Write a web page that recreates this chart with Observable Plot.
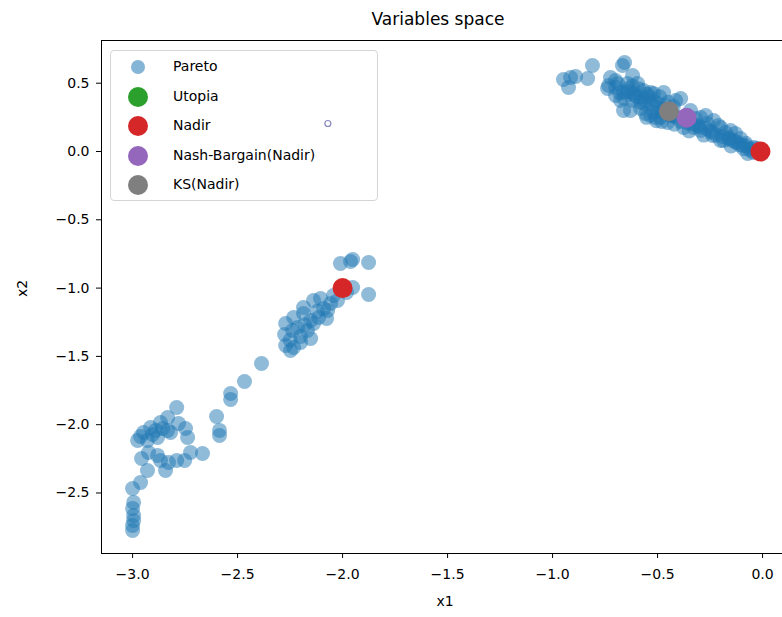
<!DOCTYPE html>
<html>
<head>
<meta charset="utf-8">
<script src="https://cdn.jsdelivr.net/npm/d3@7"></script>
<script src="https://cdn.jsdelivr.net/npm/@observablehq/plot@0.6"></script>
<style>
  body { margin: 0; background: #fff; font-family: "DejaVu Sans", sans-serif; }
  #wrap { position: relative; width: 782px; height: 617px; }
  #legend { position: absolute; left: 110px; top: 50px; width: 266px; height: 149px;
    border: 1px solid #d4d4d4; border-radius: 4px; background: transparent;
    font-family: "DejaVu Sans", sans-serif; font-size: 14px; color: #000; pointer-events: none; }
  .entry { position: absolute; left: 0; height: 24px; }
  .entry svg { position: absolute; left: 15px; top: 0; }
  .entry span { position: absolute; left: 62px; top: 3px; white-space: nowrap; }
</style>
</head>
<body>
<div id="wrap"><div id="legend"></div></div>
<script>
// Pareto set, x1 values
const paretoX1 = [
  -3.000,-3.000,-2.995,-2.995,-3.000,-2.995,-3.000,-2.962,-2.929,-2.957,-2.924,-2.881,-2.867,-2.843,-2.829,-2.790,-2.752,-2.724,-2.667,
  -2.976,-2.929,-2.948,-2.914,-2.881,-2.867,-2.833,-2.833,-2.819,-2.790,-2.781,-2.748,-2.738,-2.890,-2.857,-2.905,-2.962,
  -2.600,-2.586,-2.586,-2.533,-2.533,-2.467,-2.386,
  -2.276,-2.271,-2.248,-2.238,-2.214,-2.200,-2.200,-2.233,-2.271,-2.233,-2.186,-2.186,-2.167,-2.152,-2.152,-2.138,-2.138,-2.114,
  -2.105,-2.071,-2.057,-2.024,-2.043,-2.076,-2.010,-1.962,-1.952,-1.876,-1.876,-1.952,-1.981,-2.090,-2.120,-2.180,-2.250,
  -0.948,-0.914,-0.890,-0.924,-0.833,-0.810,-0.667,-0.657,-0.619,-0.724,-0.733,-0.738,-0.690,-0.643,-0.595,-0.662,-0.614,-0.567,
  -0.533,-0.662,-0.619,-0.567,-0.519,-0.533,-0.486,-0.519,-0.471,-0.390,-0.500,-0.510,-0.452,-0.295,-0.262,-0.233,-0.200,-0.152,
  -0.129,-0.238,-0.186,-0.119,-0.081,-0.057,-0.071,-0.043,-0.295,-0.329,-0.376,-0.581,-0.557,-0.462,-0.438,-0.343,-0.319,-0.271,
  -0.210,-0.176,-0.105,-0.095,-0.029,-0.414,-0.700,-0.676,-0.629,-0.552,-0.505,-0.425,-0.600,-0.640,-0.480,-0.360,-0.250,-0.160,
  -0.080,-0.020,-0.700,-0.580,-0.540,-0.420,-0.300,-0.140,
  -0.64,-0.61,-0.58,-0.56,-0.53,-0.50,-0.47,-0.44,-0.41,-0.39,-0.33,-0.31,-0.27,-0.24,-0.22,-0.19,-0.16,-0.13,-0.11,-0.09,
  -0.06,-0.04,-0.62,-0.59,-0.55,-0.49,-0.45,-0.52,-0.48,-0.42,-0.35,-0.28,-0.20,-0.15,-0.68,-0.70,-0.66
];
// Pareto set, x2 values
const paretoX2 = [
  -2.775,-2.738,-2.701,-2.665,-2.613,-2.569,-2.467,-2.423,-2.335,-2.247,-2.204,-2.225,-2.262,-2.335,-2.277,-2.262,-2.262,-2.204,-2.211,
  -2.115,-2.115,-2.057,-2.021,-2.094,-1.984,-1.947,-2.042,-2.057,-1.874,-1.991,-2.028,-2.094,-2.042,-2.028,-2.072,-2.086,
  -1.940,-2.042,-2.079,-1.772,-1.815,-1.684,-1.552,
  -1.340,-1.420,-1.457,-1.310,-1.288,-1.354,-1.398,-1.435,-1.259,-1.215,-1.186,-1.142,-1.310,-1.237,-1.369,-1.091,-1.259,-1.215,
  -1.076,-1.164,-1.113,-1.091,-1.054,-1.222,-0.820,-0.805,-0.791,-0.813,-1.047,-0.996,-1.032,-1.150,-1.170,-1.270,-1.380,
  0.527,0.542,0.549,0.469,0.534,0.630,0.630,0.652,0.556,0.542,0.483,0.461,0.498,0.498,0.498,0.432,0.425,0.447,
  0.432,0.300,0.373,0.351,0.373,0.264,0.249,0.425,0.432,0.388,0.351,0.249,0.212,0.249,0.205,0.227,0.176,0.154,
  0.132,0.117,0.081,0.066,0.044,0.022,-0.015,-0.007,0.154,0.176,0.176,0.315,0.278,0.337,0.264,0.300,0.242,0.264,
  0.190,0.139,0.095,0.044,0.022,0.373,0.410,0.373,0.300,0.250,0.225,0.330,0.400,0.460,0.290,0.210,0.150,0.100,
  0.060,0.010,0.520,0.360,0.400,0.260,0.180,0.080,
  0.44,0.41,0.40,0.37,0.35,0.32,0.31,0.27,0.25,0.22,0.20,0.19,0.17,0.14,0.12,0.11,0.09,0.07,0.05,0.02,
  0.01,0.03,0.48,0.46,0.42,0.40,0.36,0.29,0.22,0.20,0.15,0.12,0.08,0.04,0.43,0.47,0.39
];
const utopiaX1 = [], utopiaX2 = [];
const nadirX1 = [-2.0, -0.01];
const nadirX2 = [-1.0, 0.0];
const nashX1 = [-0.362], nashX2 = [0.247];
const ksX1 = [-0.446], ksX2 = [0.295];
const smallX1 = [-2.07], smallX2 = [0.205];

const xTicks = [-3.0, -2.5, -2.0, -1.5, -1.0, -0.5, 0.0];
const yTicks = [0.5, 0.0, -0.5, -1.0, -1.5, -2.0, -2.5];
const legendNames = ["Pareto", "Utopia", "Nadir", "Nash-Bargain(Nadir)", "KS(Nadir)"];
const legendColors = ["#1f77b4", "#2ca02c", "#d62728", "#9467bd", "#7f7f7f"];

const zip = (a, b) => a.map((v, i) => ({x1: v, x2: b[i]}));
const pareto = zip(paretoX1, paretoX2);
const utopia = zip(utopiaX1, utopiaX2);
const nadir = zip(nadirX1, nadirX2);
const nash = zip(nashX1, nashX2);
const ks = zip(ksX1, ksX2);
const small = zip(smallX1, smallX2);

const fmt = d3.format(".1f");
const chart = Plot.plot({
  width: 782, height: 617,
  marginTop: 40, marginBottom: 64, marginLeft: 101, marginRight: 0,
  style: {fontFamily: "DejaVu Sans, sans-serif", fontSize: "14px", color: "#000", background: "#fff"},
  x: {domain: [-3.148, 0.095]},
  y: {domain: [-2.943, 0.8126]},
  marks: [
    Plot.dot(pareto, {x: "x1", y: "x2", r: 7.5, fill: "#1f77b4", fillOpacity: 0.5}),
    Plot.dot(utopia, {x: "x1", y: "x2", r: 10, fill: "#2ca02c"}),
    Plot.dot(nadir, {x: "x1", y: "x2", r: 10, fill: "#d62728"}),
    Plot.dot(nash, {x: "x1", y: "x2", r: 10, fill: "#9467bd"}),
    Plot.dot(ks, {x: "x1", y: "x2", r: 10, fill: "#7f7f7f"}),
    Plot.dot(small, {x: "x1", y: "x2", r: 3, stroke: "#8a86c0", strokeWidth: 1.2, fill: "white"}),
    Plot.frame({anchor: "left", stroke: "#000"}),
    Plot.frame({anchor: "bottom", stroke: "#000"}),
    Plot.frame({anchor: "top", stroke: "#000"}),
    Plot.axisX({ticks: xTicks, tickFormat: fmt, tickSize: 5, tickPadding: 11, fontSize: 14, label: null, stroke: "#000"}),
    Plot.axisY({ticks: yTicks, tickFormat: fmt, tickSize: 5, tickPadding: 7, fontSize: 14, label: null, stroke: "#000"}),
    Plot.text(["Variables space"], {text: d => d, frameAnchor: "top", dy: -28, dx: -4, fontSize: 17}),
    Plot.text(["x1"], {text: d => d, frameAnchor: "bottom", dy: 52, dx: 3, fontSize: 14}),
    Plot.text(["x2"], {text: d => d, frameAnchor: "left", dx: -79, rotate: -90, fontSize: 14})
  ]
});
const wrap = document.getElementById("wrap");
wrap.insertBefore(chart, wrap.firstChild);

const legend = document.getElementById("legend");
const rowTops = [4, 34, 63, 93, 122];
legendNames.forEach((name, i) => {
  const e = document.createElement("div");
  e.className = "entry";
  e.style.top = rowTops[i] + "px";
  const r = i === 0 ? 7 : 10;
  const op = i === 0 ? 0.55 : 1;
  e.innerHTML = `<svg width="24" height="24"><circle cx="12" cy="12" r="${r}" fill="${legendColors[i]}" fill-opacity="${op}"/></svg><span>${name}</span>`;
  legend.appendChild(e);
});
</script>
</body>
</html>
